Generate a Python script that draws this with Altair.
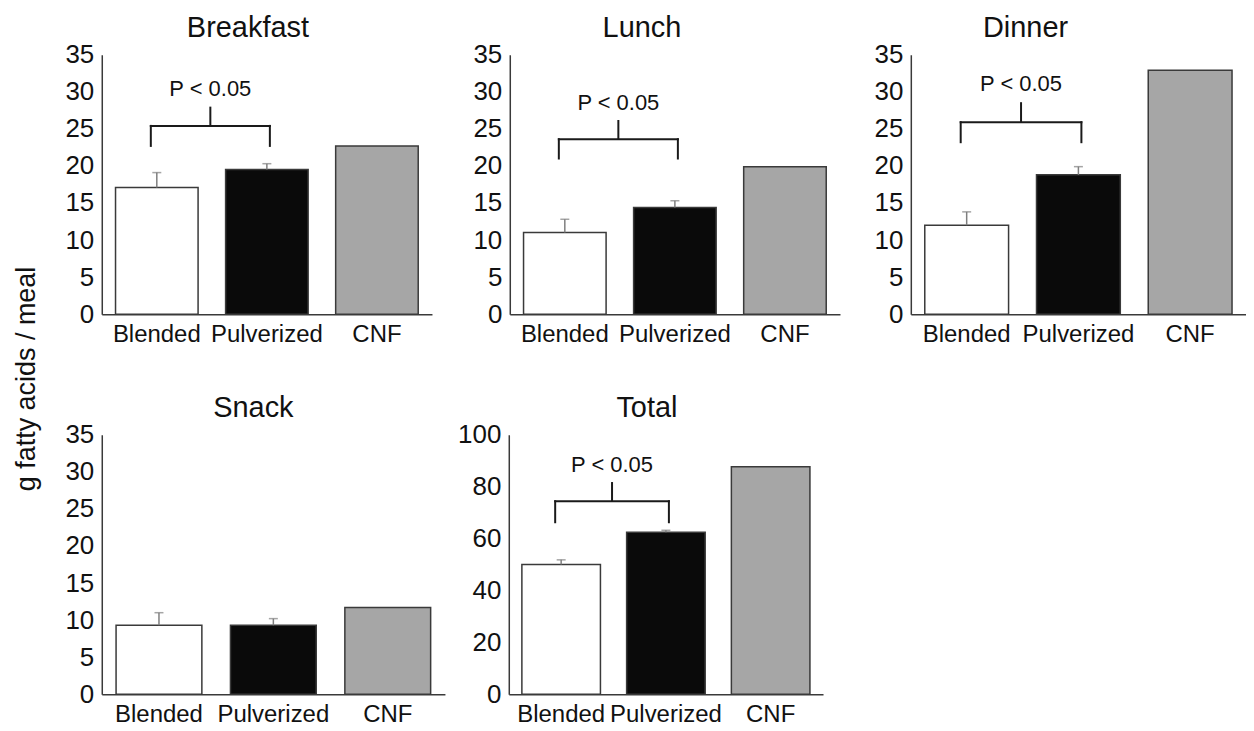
import altair as alt
import pandas as pd

GROUPS = ["Blended", "Pulverized", "CNF"]
FILLS = ["#ffffff", "#0a0a0a", "#a6a6a6"]

breakfast_vals = [17.1, 19.5, 22.7]
breakfast_err = [19.1, 20.3]
lunch_vals = [11.0, 14.4, 19.9]
lunch_err = [12.8, 15.3]
dinner_vals = [12.0, 18.8, 32.9]
dinner_err = [13.8, 19.9]
snack_vals = [9.3, 9.3, 11.7]
snack_err = [11.0, 10.2]
total_vals = [50.0, 62.4, 87.7]
total_err = [51.8, 63.2]

# significance bracket levels: leg bottom, bracket bar, stem top, label
breakfast_sig = [22.7, 25.4, 28.0, 30.4]
lunch_sig = [21.0, 23.6, 26.2, 28.5]
dinner_sig = [23.2, 25.9, 28.6, 31.0]
total_sig = [66.3, 74.4, 81.8, 88.4]
SIG_TEXT = "P < 0.05"

FONT = "Liberation Sans"
AXIS_COL = "#3a3a3a"
ERR_COL = "#7f7f7f"
BR_COL = "#1a1a1a"


def panel(title, vals, errs, sig, ymax, ystep, width, title_dx=0):
    step = width / 3.0
    df = pd.DataFrame({"group": GROUPS, "value": vals})
    err_df = pd.DataFrame({"group": GROUPS[:2], "value": vals[:2], "err": errs})
    xscale = alt.Scale(domain=GROUPS, paddingInner=0.25, paddingOuter=0.125)
    xaxis = alt.Axis(title=None, labelAngle=0, ticks=False, labelFontSize=24,
                     labelPadding=8, labelFont=FONT, labelColor="#111",
                     domainColor=AXIS_COL, domainWidth=1.5)
    yscale = alt.Scale(domain=[0, ymax], nice=False, zero=True)
    yaxis = alt.Axis(title=None, values=list(range(0, ymax + 1, ystep)), ticks=False,
                     grid=False, labelFontSize=26, labelPadding=8, labelFont=FONT,
                     labelColor="#111", domainColor=AXIS_COL, domainWidth=1.5)
    x = alt.X("group:N", sort=GROUPS, scale=xscale, axis=xaxis)

    bars = alt.Chart(df).mark_bar(stroke=AXIS_COL, strokeWidth=1.5).encode(
        x=x,
        y=alt.Y("value:Q", scale=yscale, axis=yaxis),
        fill=alt.Fill("group:N", scale=alt.Scale(domain=GROUPS, range=FILLS), legend=None),
    )
    err_rule = alt.Chart(err_df).mark_rule(color=ERR_COL, strokeWidth=1.5).encode(
        x=x, y=alt.Y("value:Q", scale=yscale, axis=yaxis), y2="err:Q"
    )
    err_cap = alt.Chart(err_df).mark_tick(color=ERR_COL, thickness=1.5, size=9,
                                          orient="horizontal").encode(
        x=x, y=alt.Y("err:Q", scale=yscale, axis=yaxis)
    )
    layers = [bars, err_rule, err_cap]
    if sig is not None:
        br = pd.DataFrame({"a": ["Blended"], "b": ["Pulverized"], "leg": [sig[0]],
                           "bar": [sig[1]], "stem": [sig[2]], "lab": [sig[3]],
                           "txt": [SIG_TEXT]})
        ya = lambda f: alt.Y(f, scale=yscale, axis=yaxis)
        xa = lambda f: alt.X(f, sort=GROUPS, scale=xscale, axis=xaxis)
        hline = alt.Chart(br).mark_rule(color=BR_COL, strokeWidth=2, xOffset=-6,
                                        x2Offset=3, strokeCap="square").encode(
            x=xa("a:N"), x2="b:N", y=ya("bar:Q"))
        lleg = alt.Chart(br).mark_rule(color=BR_COL, strokeWidth=2, xOffset=-6,
                                       strokeCap="square").encode(
            x=xa("a:N"), y=ya("leg:Q"), y2="bar:Q")
        rleg = alt.Chart(br).mark_rule(color=BR_COL, strokeWidth=2, xOffset=3,
                                       strokeCap="square").encode(
            x=xa("b:N"), y=ya("leg:Q"), y2="bar:Q")
        stem = alt.Chart(br).mark_rule(color=BR_COL, strokeWidth=2,
                                       xOffset=step / 2 - 1.5).encode(
            x=xa("a:N"), y=ya("bar:Q"), y2="stem:Q")
        txt = alt.Chart(br).mark_text(font=FONT, fontSize=22, color="#111",
                                      baseline="middle", align="center",
                                      dx=step / 2 - 1.5).encode(
            x=xa("a:N"), y=ya("lab:Q"), text="txt:N")
        layers += [hline, lleg, rleg, stem, txt]

    return alt.layer(*layers).properties(
        width=width, height=260,
        title=alt.TitleParams(text=title, fontSize=29, font=FONT, fontWeight="normal",
                              anchor="middle", color="#111", dx=title_dx, offset=-24,
                              baseline="alphabetic"),
    )


b = panel("Breakfast", breakfast_vals, breakfast_err, breakfast_sig, 35, 5, 331, title_dx=-19)
l = panel("Lunch", lunch_vals, lunch_err, lunch_sig, 35, 5, 331, title_dx=-33)
d = panel("Dinner", dinner_vals, dinner_err, dinner_sig, 35, 5, 336, title_dx=-53)
s = panel("Snack", snack_vals, snack_err, None, 35, 5, 344, title_dx=-20)
t = panel("Total", total_vals, total_err, total_sig, 100, 20, 315, title_dx=-19)

row1 = alt.hconcat(alt.hconcat(b, l, spacing=41), d, spacing=34)
row2 = alt.hconcat(s, t, spacing=12)

chart = alt.vconcat(row1, row2, spacing=48).properties(
    padding={"top": 5, "left": 5, "right": 0, "bottom": 0},
    title=alt.TitleParams(text="g fatty acids / meal", orient="left", anchor="middle",
                          fontSize=27, font=FONT, fontWeight="normal", color="#111",
                          offset=24, dx=-9),
).configure_view(stroke=None)

chart.save("out.html", embed_options={"renderer": "svg", "actions": False})
